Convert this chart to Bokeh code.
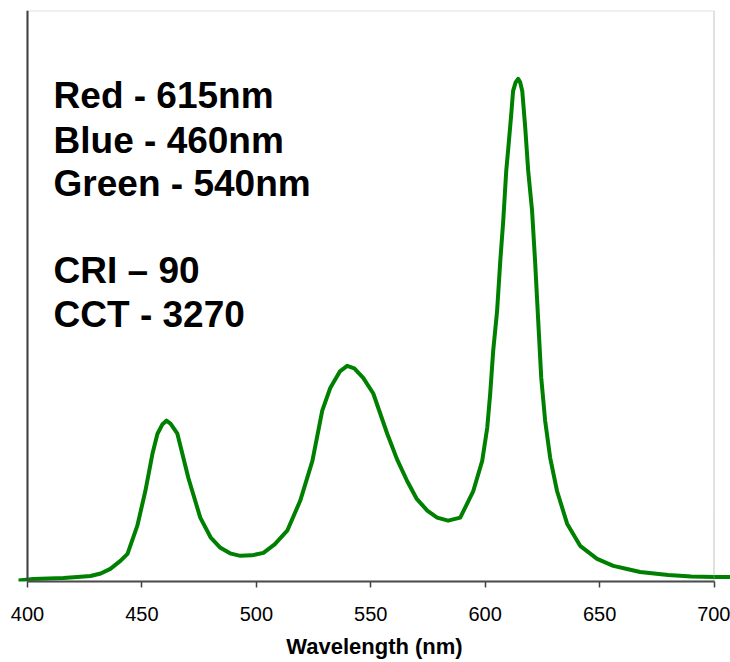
from bokeh.plotting import figure
from bokeh.models import Range1d, FixedTicker, BoxAnnotation, Span, Label
from bokeh.embed import file_html
from bokeh.resources import INLINE

# Spectrum (relative intensity, red peak = 1)
wavelength = [396.1, 402.6, 415.7, 421.8, 427.5, 432.0, 436.2, 440.6, 443.7, 448.0,
              451.5, 454.6, 456.8, 459.0, 460.7, 462.5, 465.5, 470.3, 475.5, 480.0,
              484.3, 488.5, 493.0, 498.0, 503.1, 508.0, 513.5, 519.2, 524.5, 528.8,
              532.3, 536.5, 539.7, 542.8, 546.7, 551.1, 557.2, 561.5, 565.9, 570.0,
              574.7, 579.0, 583.8, 589.1, 594.8, 598.7, 600.9, 602.2, 603.5, 605.2,
              606.6, 607.9, 609.2, 610.0, 611.4, 612.2, 613.3, 614.4, 615.3, 616.2,
              617.5, 618.8, 620.5, 621.8, 623.1, 624.5, 626.2, 628.4, 631.4, 635.8,
              641.5, 648.9, 656.0, 662.0, 667.7, 680.0, 690.0, 700.0, 707.2]
intensity = [0.002, 0.005, 0.007, 0.009, 0.011, 0.016, 0.025, 0.041, 0.055, 0.111,
             0.180, 0.254, 0.294, 0.313, 0.320, 0.314, 0.294, 0.206, 0.127, 0.088,
             0.067, 0.056, 0.051, 0.052, 0.057, 0.074, 0.101, 0.161, 0.240, 0.340,
             0.385, 0.418, 0.429, 0.424, 0.405, 0.374, 0.294, 0.243, 0.200, 0.165,
             0.141, 0.127, 0.121, 0.127, 0.180, 0.240, 0.306, 0.374, 0.459, 0.538,
             0.638, 0.718, 0.817, 0.857, 0.930, 0.976, 0.993, 1.000, 0.993, 0.976,
             0.903, 0.817, 0.737, 0.638, 0.525, 0.405, 0.320, 0.246, 0.180, 0.115,
             0.071, 0.045, 0.031, 0.025, 0.019, 0.013, 0.010, 0.009, 0.009]
tick_values = [400, 450, 500, 550, 600, 650, 700]
axis_bounds = (400, 700)
x_title = "Wavelength (nm)"
annotation_lines = ["Red - 615nm", "Blue - 460nm", "Green - 540nm", "CRI \u2013 90", "CCT - 3270"]
annotation_y = [0.9672, 0.8777, 0.7926, 0.6181, 0.5305]

X_START, X_END = 396.07, 707.2
Y_END = 1.136

p = figure(width=730, height=662, x_range=Range1d(X_START, X_END), y_range=Range1d(0, Y_END),
           output_backend="svg", toolbar_location=None,
           min_border_left=18, min_border_right=0, min_border_top=10, min_border_bottom=81)
p.background_fill_color = "white"
p.border_fill_color = "white"
p.outline_line_color = None
p.grid.visible = False
p.yaxis.visible = False

ax = p.xaxis[0]
ax.bounds = axis_bounds
ax.ticker = FixedTicker(ticks=tick_values, minor_ticks=[])
ax.axis_line_color = "#404040"
ax.axis_line_width = 2
ax.major_tick_line_color = "#404040"
ax.major_tick_line_width = 1.5
ax.major_tick_in = 0
ax.major_tick_out = 6
ax.minor_tick_line_color = None
ax.major_label_text_font = "Liberation Sans"
ax.major_label_text_font_size = "20px"
ax.major_label_text_color = "black"
ax.major_label_standoff = 19
ax.axis_label = x_title
ax.axis_label_text_font = "Liberation Sans"
ax.axis_label_text_font_size = "22px"
ax.axis_label_text_font_style = "bold"
ax.axis_label_text_color = "black"
ax.axis_label_standoff = 10

box = BoxAnnotation(left=axis_bounds[0], right=axis_bounds[1], bottom=0, top=Y_END,
                    fill_alpha=0, line_color="#9a9a9a", line_width=2)
p.add_layout(box)
p.add_layout(Span(location=axis_bounds[0], dimension="height", line_color="#404040", line_width=2))

p.line(wavelength, intensity, line_color="#008000", line_width=4, line_join="round", line_cap="round")

for txt, yy in zip(annotation_lines, annotation_y):
    p.add_layout(Label(x=411.4, y=yy, text=txt, text_font="Liberation Sans",
                       text_font_size="37px", text_font_style="bold", text_color="black",
                       text_baseline="alphabetic", text_align="left"))

open("out.html", "w").write(file_html(p, INLINE))
